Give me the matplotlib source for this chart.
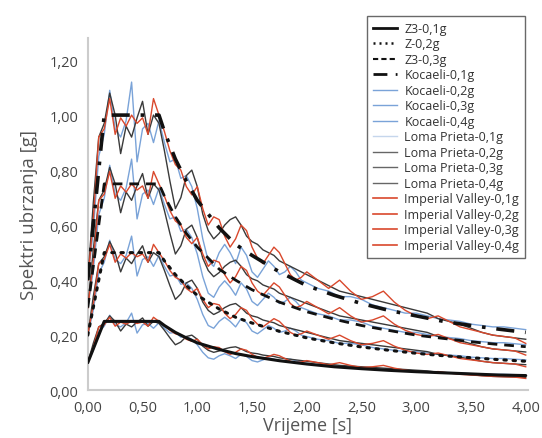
import matplotlib
matplotlib.use("Agg")
import matplotlib.pyplot as plt
from matplotlib.lines import Line2D
import numpy as np

plt.rcParams['font.family'] = ['Open Sans', 'DejaVu Sans']

# ---------------- data ----------------
levels = [0.25, 0.50, 0.75, 1.00]          # scale of the 0.1g..0.4g record sets

T_design = [0.00, 0.15, 0.65, 0.70, 0.80, 0.90, 1.00, 1.10, 1.20, 1.35, 1.50, 1.75,
            2.00, 2.25, 2.50, 2.75, 3.00, 3.25, 3.50, 3.75, 4.00]
z3_01 = [0.100, 0.250, 0.250, 0.235, 0.210, 0.190, 0.172, 0.160, 0.148, 0.133, 0.122, 0.107,
         0.095, 0.085, 0.078, 0.072, 0.067, 0.063, 0.059, 0.055, 0.053]
z3_02 = [0.20, 0.50, 0.50, 0.47, 0.42, 0.38, 0.345, 0.32, 0.295, 0.265, 0.244, 0.214,
         0.19, 0.172, 0.157, 0.145, 0.134, 0.125, 0.118, 0.111, 0.105]
z3_03 = [0.30, 0.75, 0.75, 0.705, 0.63, 0.57, 0.52, 0.48, 0.44, 0.40, 0.365, 0.32,
         0.285, 0.258, 0.235, 0.217, 0.20, 0.188, 0.176, 0.166, 0.158]
z3_04 = [0.40, 1.00, 1.00, 0.94, 0.84, 0.76, 0.69, 0.64, 0.59, 0.53, 0.49, 0.43,
         0.38, 0.345, 0.315, 0.29, 0.27, 0.25, 0.235, 0.222, 0.21]

T_rec = [0.00, 0.05, 0.10, 0.15, 0.20, 0.25, 0.30, 0.35, 0.40, 0.45, 0.50, 0.55, 0.60,
         0.65, 0.70, 0.75, 0.80, 0.85, 0.90, 0.95, 1.00, 1.05, 1.10, 1.15, 1.20, 1.25,
         1.30, 1.35, 1.40, 1.45, 1.50, 1.55, 1.60, 1.65, 1.70, 1.75, 1.80, 1.85, 1.90,
         1.95, 2.00, 2.10, 2.20, 2.30, 2.40, 2.50, 2.60, 2.70, 2.80, 2.90, 3.00, 3.10,
         3.20, 3.30, 3.40, 3.50, 3.60, 3.70, 3.80, 3.90, 4.00]

# record spectra at the 0.4g level (other levels are the same records scaled)
kocaeli = [0.40, 0.58, 0.85, 0.93, 1.09, 0.95, 0.92, 0.98, 1.12, 0.83, 0.95, 0.97, 0.90,
           0.98, 0.90, 0.83, 0.84, 0.77, 0.78, 0.74, 0.66, 0.55, 0.47, 0.45, 0.50, 0.53,
           0.50, 0.46, 0.52, 0.49, 0.43, 0.41, 0.44, 0.47, 0.45, 0.42, 0.43, 0.45, 0.43,
           0.40, 0.39, 0.37, 0.36, 0.34, 0.34, 0.33, 0.31, 0.30, 0.29, 0.28, 0.28, 0.27,
           0.26, 0.255, 0.25, 0.24, 0.235, 0.23, 0.23, 0.225, 0.22]
loma = [0.40, 0.68, 0.92, 0.97, 1.08, 1.00, 0.86, 0.96, 0.92, 0.99, 1.05, 0.93, 1.00,
        0.97, 0.87, 0.76, 0.66, 0.70, 0.78, 0.80, 0.74, 0.64, 0.58, 0.55, 0.57, 0.60,
        0.62, 0.63, 0.60, 0.56, 0.54, 0.53, 0.51, 0.50, 0.49, 0.47, 0.46, 0.45, 0.44,
        0.43, 0.42, 0.40, 0.38, 0.36, 0.35, 0.34, 0.33, 0.32, 0.31, 0.30, 0.29, 0.28,
        0.26, 0.25, 0.24, 0.225, 0.21, 0.20, 0.195, 0.19, 0.185]
imperial = [0.40, 0.62, 0.92, 0.95, 1.06, 0.93, 0.99, 0.96, 1.00, 0.97, 0.99, 0.93, 1.06,
            1.00, 0.94, 0.87, 0.82, 0.80, 0.74, 0.71, 0.74, 0.66, 0.60, 0.63, 0.62, 0.56,
            0.52, 0.55, 0.60, 0.58, 0.52, 0.48, 0.46, 0.49, 0.52, 0.50, 0.46, 0.42, 0.40,
            0.41, 0.43, 0.40, 0.37, 0.40, 0.36, 0.33, 0.34, 0.36, 0.32, 0.29, 0.27, 0.26,
            0.27, 0.25, 0.23, 0.22, 0.21, 0.20, 0.195, 0.19, 0.17]

x_ticks = [0.0, 0.5, 1.0, 1.5, 2.0, 2.5, 3.0, 3.5, 4.0]
x_ticklabels = ['0,00', '0,50', '1,00', '1,50', '2,00', '2,50', '3,00', '3,50', '4,00']
y_ticks = [0.0, 0.2, 0.4, 0.6, 0.8, 1.0, 1.2]
y_ticklabels = ['0,00', '0,20', '0,40', '0,60', '0,80', '1,00', '1,20']

legend_labels = ['Z3-0,1g', 'Z-0,2g', 'Z3-0,3g', 'Kocaeli-0,1g', 'Kocaeli-0,2g',
                 'Kocaeli-0,3g', 'Kocaeli-0,4g', 'Loma Prieta-0,1g', 'Loma Prieta-0,2g',
                 'Loma Prieta-0,3g', 'Loma Prieta-0,4g', 'Imperial Valley-0,1g',
                 'Imperial Valley-0,2g', 'Imperial Valley-0,3g', 'Imperial Valley-0,4g']

# ---------------- plot ----------------
BLUE = '#7aa3d8'
GRAY = '#3a3a3a'
RED = '#d9482c'

fig = plt.figure(figsize=(5.42, 4.39), dpi=100)
ax = fig.add_axes([0.162, 0.109, 0.812, 0.802])

for s in levels:
    ax.plot(T_rec, np.array(kocaeli) * s, color=BLUE, lw=1.0, zorder=2)
for s in levels:
    ax.plot(T_rec, np.array(loma) * s, color=GRAY, lw=1.0, zorder=3)
for s in levels:
    ax.plot(T_rec, np.array(imperial) * s, color=RED, lw=1.0, zorder=4)

ax.plot(T_design, z3_01, color='#111111', lw=2.2, solid_capstyle='round', zorder=5)
ax.plot(T_design, z3_02, color='#111111', lw=2.2, linestyle=(0, (0.8, 2.2)),
        dash_capstyle='round', zorder=5)
ax.plot(T_design, z3_03, color='#111111', lw=2.0, linestyle=(0, (3.5, 2.5)), zorder=5)
ax.plot(T_design, z3_04, color='#111111', lw=2.6, linestyle=(0, (5, 3, 1, 3)), zorder=5)

ax.set_xlim(0, 4.02)
ax.set_ylim(0, 1.28)
ax.set_xticks(x_ticks)
ax.set_xticklabels(x_ticklabels)
ax.set_yticks(y_ticks)
ax.set_yticklabels(y_ticklabels)
ax.tick_params(length=0, labelsize=10.5, colors='#444444', pad=7)
for side in ['top', 'right']:
    ax.spines[side].set_visible(False)
for side in ['left', 'bottom']:
    ax.spines[side].set_color('#cccccc')
    ax.spines[side].set_linewidth(1.5)

ax.set_xlabel('Vrijeme [s]', fontsize=13, color='#555555', labelpad=1)
ax.set_ylabel('Spektri ubrzanja [g]', fontsize=13.5, color='#555555', labelpad=8)

handle_styles = [
    dict(color='#111111', lw=2.0, linestyle='-'),
    dict(color='#111111', lw=1.8, linestyle=(0, (0.8, 1.6))),
    dict(color='#111111', lw=1.5, linestyle=(0, (2.5, 1.5))),
    dict(color='#111111', lw=2.0, linestyle=(0, (5, 3, 1, 3))),
    dict(color=BLUE, lw=1.0), dict(color=BLUE, lw=1.0), dict(color=BLUE, lw=1.0),
    dict(color='#c5d6ec', lw=1.0),
    dict(color='#666666', lw=1.0), dict(color='#666666', lw=1.0), dict(color='#666666', lw=1.0),
    dict(color=RED, lw=1.2), dict(color=RED, lw=1.2), dict(color=RED, lw=1.2), dict(color=RED, lw=1.2),
]
handles = [Line2D([], [], **st) for st in handle_styles]
leg = fig.legend(handles, legend_labels, loc='upper right',
                 bbox_to_anchor=(531 / 542, 1 - 11 / 439), fontsize=9,
                 frameon=True, fancybox=False, handlelength=1.9, handletextpad=0.6,
                 labelspacing=0.2, borderpad=0.45, labelcolor='#333333')
leg.get_frame().set_edgecolor('#444444')
leg.get_frame().set_linewidth(1.0)

fig.savefig('out.png', dpi=100)
